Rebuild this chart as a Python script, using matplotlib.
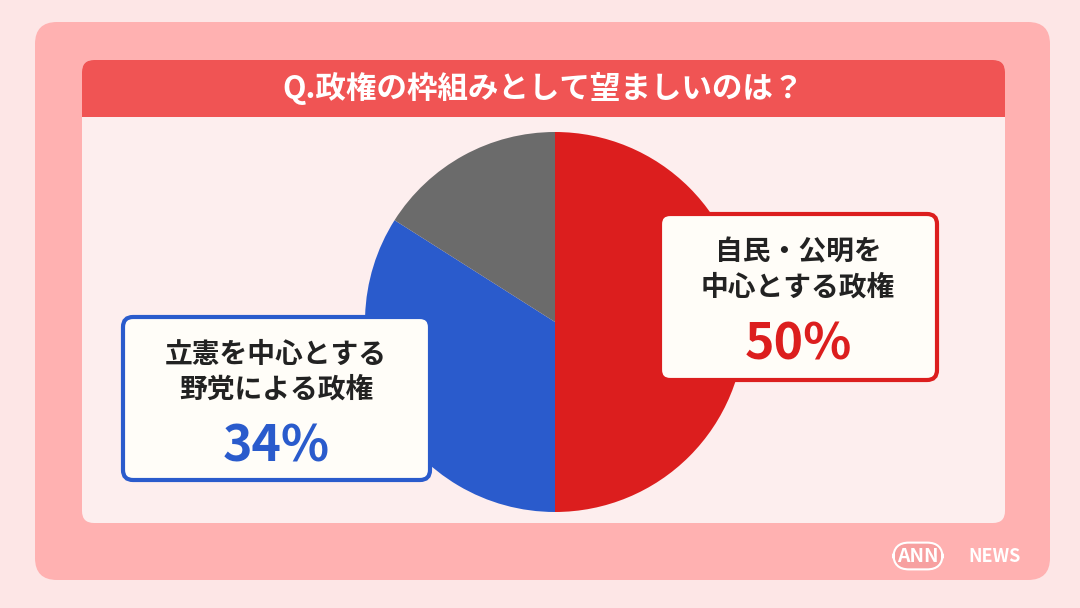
import matplotlib
matplotlib.use("Agg")
import matplotlib.pyplot as plt
from matplotlib.patches import FancyBboxPatch, Rectangle

plt.rcParams['font.family'] = ['Noto Sans CJK JP', 'DejaVu Sans']

labels = ["自民・公明を\n中心とする政権", "立憲を中心とする\n野党による政権", "その他"]
values = [50, 34, 16]
colors = ["#dc1e1e", "#2a5bcc", "#6b6b6b"]
title = "Q.政権の枠組みとして望ましいのは？"

fig = plt.figure(figsize=(10.8, 6.08), dpi=100)
fig.patch.set_facecolor("#fde6e6")
ax = fig.add_axes([0, 0, 1, 1])
H = 608

def rbox(x0, y0, x1, y1, fc, ec="none", lw=0, r=20, z=1):
    ax.add_patch(FancyBboxPatch((x0, H - y1), x1 - x0, y1 - y0,
                 boxstyle=f"round,pad=0,rounding_size={r}", fc=fc, ec=ec, lw=lw, zorder=z))

wedges, _ = ax.pie(values, colors=colors, startangle=90, counterclock=False,
       center=(555, H - 322), radius=190, wedgeprops=dict(linewidth=0), frame=True)
for w in wedges:
    w.set_zorder(4)
ax.set_xlim(0, 1080); ax.set_ylim(0, 608); ax.axis("off"); ax.set_aspect("auto")

rbox(35, 22, 1050, 580, "#ffb1b1", r=22)
rbox(82, 60, 1005, 523, "#fdeeee", r=12, z=2)
rbox(82, 60, 1005, 117, "#f05454", r=12, z=3)
ax.add_patch(Rectangle((82, H - 117), 923, 20, fc="#f05454", ec="none", zorder=3))
ax.text(543, H - 89, title, color="white", fontsize=22, fontweight="bold",
        ha="center", va="center", zorder=4)

rbox(660, 214, 937, 380, "#fffdf8", ec=colors[0], lw=3, r=10, z=5)
ax.text(798, H - 270, labels[0], color="#222222", fontsize=20, fontweight="bold",
        ha="center", va="center", linespacing=1.3, zorder=6)
ax.text(798, H - 345, f"{values[0]}%", color=colors[0], fontsize=36, fontweight="bold",
        ha="center", va="center", zorder=6)

rbox(123, 317, 430, 480, "#fffdf8", ec=colors[1], lw=3, r=10, z=5)
ax.text(276, H - 372, labels[1], color="#222222", fontsize=20, fontweight="bold",
        ha="center", va="center", linespacing=1.3, zorder=6)
ax.text(276, H - 447, f"{values[1]}%", color=colors[1], fontsize=36, fontweight="bold",
        ha="center", va="center", zorder=6)

ax.text(918, H - 556, "ANN", color="white", fontsize=14, fontweight="bold", style="italic",
        ha="center", va="center", zorder=6,
        bbox=dict(boxstyle="round,pad=0.2,rounding_size=0.8", fc="#f7a0a0", ec="white", lw=1.5))
ax.text(995, H - 556, "NEWS", color="white", fontsize=13, fontweight="bold",
        ha="center", va="center", zorder=6)

fig.savefig("out.png", dpi=100, facecolor=fig.get_facecolor())
